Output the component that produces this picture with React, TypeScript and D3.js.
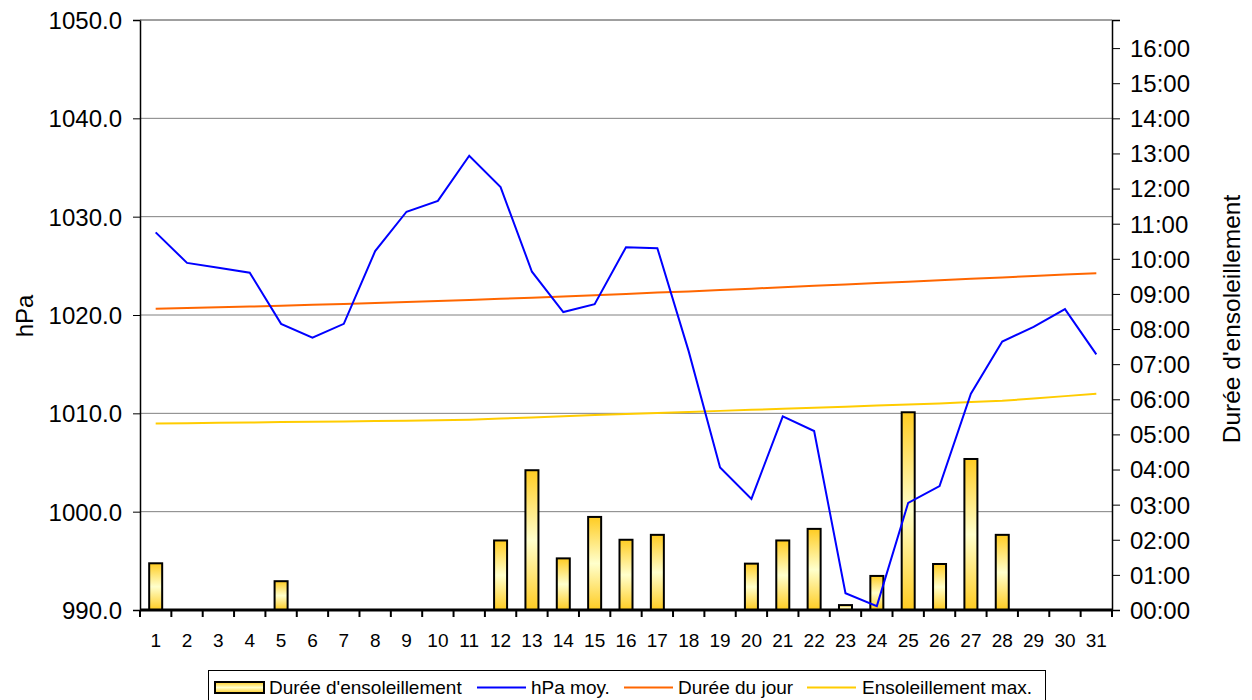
import React, { useEffect, useRef } from "react";
import * as d3 from "d3";

// jours du mois
const days: number[] = Array.from({ length: 31 }, (_, i) => i + 1);

// pression moyenne (hPa)
const hpaMoy: number[] = [
  1028.4, 1025.3, 1024.8, 1024.3, 1019.1, 1017.7, 1019.1, 1026.5, 1030.5, 1031.6,
  1036.2, 1033.0, 1024.4, 1020.3, 1021.1, 1026.9, 1026.8, 1016.3, 1004.5, 1001.3,
  1009.7, 1008.2, 991.7, 990.4, 1000.9, 1002.6, 1012.0, 1017.3, 1018.8, 1020.6,
  1016.0,
];

// durée d'ensoleillement (heures)
const sunHours: number[] = [
  1.33, 0, 0, 0, 0.82, 0, 0, 0, 0, 0, 0, 1.98, 3.98, 1.47, 2.65, 2.0, 2.14, 0, 0, 1.32,
  1.98, 2.31, 0.14, 0.97, 5.63, 1.31, 4.3, 2.14, 0, 0, 0,
];

// durée du jour (heures)
const dayLength: number[] = [
  8.58, 8.6, 8.62, 8.64, 8.66, 8.69, 8.71, 8.74, 8.77, 8.8, 8.83, 8.86, 8.89, 8.93,
  8.96, 9.0, 9.04, 9.07, 9.11, 9.15, 9.19, 9.23, 9.27, 9.31, 9.35, 9.39, 9.43, 9.47,
  9.51, 9.55, 9.59,
];

// ensoleillement max (heures)
const sunMax: number[] = [
  5.31, 5.32, 5.33, 5.34, 5.35, 5.36, 5.37, 5.38, 5.39, 5.4, 5.42, 5.45, 5.48, 5.52,
  5.55, 5.58, 5.61, 5.64, 5.67, 5.7, 5.73, 5.76, 5.79, 5.82, 5.85, 5.88, 5.92, 5.96,
  6.02, 6.09, 6.16,
];

const leftTicks: number[] = [990, 1000, 1010, 1020, 1030, 1040, 1050];
const rightTicks: number[] = d3.range(0, 17);

const App = () => {
  const ref = useRef<HTMLDivElement>(null);

  useEffect(() => {
    d3.select(ref.current).selectAll("*").remove();

    const width = 1252,
      height = 700;
    const left = 140,
      right = 1112,
      top = 20,
      bottom = 610;
    const font = "Arial, 'Liberation Sans', sans-serif";

    const svg = d3
      .select(ref.current)
      .append("svg")
      .attr("width", width)
      .attr("height", height)
      .style("display", "block")
      .style("font-family", font);

    const defs = svg.append("defs");
    const grad = defs
      .append("linearGradient")
      .attr("id", "barGrad")
      .attr("x1", 0)
      .attr("y1", 0)
      .attr("x2", 0)
      .attr("y2", 1);
    grad.append("stop").attr("offset", "0%").attr("stop-color", "#FFCC22");
    grad.append("stop").attr("offset", "50%").attr("stop-color", "#FFFFCC");
    grad.append("stop").attr("offset", "100%").attr("stop-color", "#FFCC22");

    const x = d3
      .scaleBand<number>()
      .domain(days)
      .range([left, right])
      .paddingInner(0)
      .paddingOuter(0);
    const xc = (d: number) => (x(d) as number) + x.bandwidth() / 2;

    const yL = d3.scaleLinear().domain([990, 1050]).range([bottom, top]);
    const yR = d3.scaleLinear().domain([0, 16.8]).range([bottom, top]);

    // grille
    svg
      .append("g")
      .selectAll("line")
      .data(leftTicks.slice(1))
      .join("line")
      .attr("x1", left)
      .attr("x2", right)
      .attr("y1", (d) => yL(d))
      .attr("y2", (d) => yL(d))
      .attr("stroke", "#808080")
      .attr("stroke-width", 1);

    // barres
    const bw = 13;
    svg
      .append("g")
      .selectAll("rect")
      .data(days.filter((d, i) => sunHours[i] > 0))
      .join("rect")
      .attr("x", (d) => xc(d) - bw / 2)
      .attr("y", (d) => yR(sunHours[d - 1]))
      .attr("width", bw)
      .attr("height", (d) => bottom - yR(sunHours[d - 1]))
      .attr("fill", "url(#barGrad)")
      .attr("stroke", "#000")
      .attr("stroke-width", 2);

    const lineL = d3
      .line<number>()
      .x((d, i) => xc(days[i]))
      .y((d) => yL(d));
    const lineR = d3
      .line<number>()
      .x((d, i) => xc(days[i]))
      .y((d) => yR(d));

    svg
      .append("path")
      .attr("d", lineR(sunMax))
      .attr("fill", "none")
      .attr("stroke", "#FFCC00")
      .attr("stroke-width", 2);
    svg
      .append("path")
      .attr("d", lineR(dayLength))
      .attr("fill", "none")
      .attr("stroke", "#FF6600")
      .attr("stroke-width", 2);
    svg
      .append("path")
      .attr("d", lineL(hpaMoy))
      .attr("fill", "none")
      .attr("stroke", "#0000FF")
      .attr("stroke-width", 2);

    // axe gauche
    const gL = svg.append("g").attr("transform", `translate(${left},0)`);
    gL.call(
      d3
        .axisLeft(yL)
        .tickValues(leftTicks)
        .tickSize(7)
        .tickPadding(11)
        .tickFormat((d) => d3.format(".1f")(d as number))
    );
    gL.select(".domain").attr("stroke", "#000").attr("stroke-width", 1.5);
    gL.selectAll(".tick line").attr("stroke", "#000");
    gL.selectAll("text")
      .attr("font-size", 24)
      .attr("font-family", font)
      .attr("fill", "#000")
      .attr("dy", "0.35em");

    // axe droit
    const gR = svg.append("g").attr("transform", `translate(${right},0)`);
    gR.call(
      d3
        .axisRight(yR)
        .tickValues(rightTicks)
        .tickSize(8)
        .tickPadding(10)
        .tickFormat((d) => `${String(d).padStart(2, "0")}:00`)
    );
    gR.select(".domain").attr("stroke", "#000").attr("stroke-width", 1.5);
    gR.selectAll(".tick line").attr("stroke", "#000");
    gR.selectAll("text")
      .attr("font-size", 24)
      .attr("font-family", font)
      .attr("fill", "#000")
      .attr("dy", "0.35em");

    // axe du bas
    const gB = svg.append("g").attr("transform", `translate(0,${bottom})`);
    gB.call(d3.axisBottom(x).tickSize(0).tickPadding(24));
    gB.select(".domain").remove();
    gB.selectAll("text").attr("font-size", 19).attr("font-family", font).attr("fill", "#000");
    gB.append("line")
      .attr("x1", left)
      .attr("x2", right)
      .attr("stroke", "#000")
      .attr("stroke-width", 3);
    gB.selectAll("line.tk")
      .data(d3.range(0, 32))
      .join("line")
      .attr("class", "tk")
      .attr("x1", (i) => left + i * x.step())
      .attr("x2", (i) => left + i * x.step())
      .attr("y1", 0)
      .attr("y2", 7)
      .attr("stroke", "#000")
      .attr("stroke-width", 2);

    // bord haut
    svg
      .append("line")
      .attr("x1", left)
      .attr("x2", right)
      .attr("y1", top)
      .attr("y2", top)
      .attr("stroke", "#808080");

    // titres
    svg
      .append("text")
      .attr("transform", `translate(33,316) rotate(-90)`)
      .attr("text-anchor", "middle")
      .attr("font-size", 24)
      .text("hPa");
    svg
      .append("text")
      .attr("transform", `translate(1240,319) rotate(-90)`)
      .attr("text-anchor", "middle")
      .attr("font-size", 24.5)
      .text("Durée d'ensoleillement");

    // légende
    const lg = svg.append("g");
    lg.append("rect")
      .attr("x", 208.5)
      .attr("y", 670.5)
      .attr("width", 837)
      .attr("height", 40)
      .attr("fill", "#fff")
      .attr("stroke", "#000");
    const ly = 687.5;
    lg.append("rect")
      .attr("x", 215)
      .attr("y", 682)
      .attr("width", 49)
      .attr("height", 11)
      .attr("fill", "url(#barGrad)")
      .attr("stroke", "#000")
      .attr("stroke-width", 2);
    const items = [
      { x: 0, tx: 269, label: "Durée d'ensoleillement", color: "" },
      { x: 477, tx: 531, label: "hPa moy.", color: "#0000FF" },
      { x: 624, tx: 678, label: "Durée du jour", color: "#FF6600" },
      { x: 807, tx: 862, label: "Ensoleillement max.", color: "#FFCC00" },
    ];
    items.forEach((it) => {
      if (it.color) {
        lg.append("line")
          .attr("x1", it.x)
          .attr("x2", it.x + 49)
          .attr("y1", ly)
          .attr("y2", ly)
          .attr("stroke", it.color)
          .attr("stroke-width", 2);
      }
      lg.append("text")
        .attr("x", it.tx)
        .attr("y", 694)
        .attr("font-size", 19)
        .text(it.label);
    });

    return () => {
      // eslint-disable-next-line
      d3.select(ref.current).selectAll("*").remove();
    };
  }, []);

  return (
    <div
      ref={ref}
      style={{ position: "absolute", left: 0, top: 0, width: 1252, height: 700, overflow: "hidden" }}
    />
  );
};

export default App;
